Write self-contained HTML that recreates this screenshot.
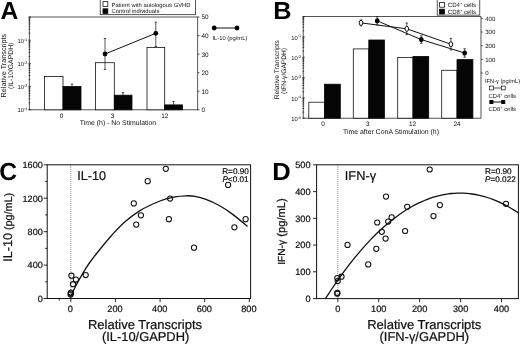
<!DOCTYPE html>
<html><head><meta charset="utf-8"><title>Figure</title>
<style>
html,body{margin:0;padding:0;background:#fff;}
body{width:520px;height:347px;overflow:hidden;}
svg{display:block;filter:blur(0.4px);font-family:"Liberation Sans",sans-serif;fill:#111;text-rendering:geometricPrecision;}
.ln{stroke:#111;stroke-width:1;fill:none;}
.th{stroke:#111;stroke-width:0.7;fill:none;}
.wb{fill:#fff;stroke:#111;stroke-width:0.8;}
.bb{fill:#050505;stroke:#050505;stroke-width:0.8;}
.oc{fill:none;stroke:#111;stroke-width:1.05;}
#panelC text,#panelD text{stroke:#111;stroke-width:0.22;}
#panelC text.pl,#panelD text.pl{stroke:none;}
.fr{stroke:#2a2a2a;stroke-width:0.8;fill:none;}
.tk{stroke:#111;stroke-width:0.9;fill:none;}
.cv{stroke:#111;stroke-width:1.3;fill:none;}
.pl{font-size:24.6px;font-weight:bold;fill:#000;}
</style></head><body>
<svg width="520" height="347" viewBox="0 0 520 347">
<rect x="0" y="0" width="520" height="347" fill="#fff"/>

<g id="panelA">
<text class="pl" transform="translate(0.4,18.5)">A</text>
<rect class="fr" x="29.3" y="17" width="168.39999999999998" height="92.8"/>
<path class="th" d="M28.5 17.0h2.4"/>
<path class="th" stroke-width="0.4" d="M28.7 33.2h1.6"/>
<path class="th" stroke-width="0.4" d="M28.7 29.1h1.6"/>
<path class="th" stroke-width="0.4" d="M28.7 26.2h1.6"/>
<path class="th" stroke-width="0.4" d="M28.7 24.0h1.6"/>
<path class="th" stroke-width="0.4" d="M28.7 22.1h1.6"/>
<path class="th" stroke-width="0.4" d="M28.7 20.6h1.6"/>
<path class="th" stroke-width="0.4" d="M28.7 19.2h1.6"/>
<path class="th" stroke-width="0.4" d="M28.7 18.1h1.6"/>
<path class="th" d="M28.5 40.2h2.4"/>
<text x="27.3" y="42.8" font-size="5.8" text-anchor="end">10<tspan font-size="3.8" dy="-2.1">-1</tspan></text>
<path class="th" stroke-width="0.4" d="M28.7 56.4h1.6"/>
<path class="th" stroke-width="0.4" d="M28.7 52.3h1.6"/>
<path class="th" stroke-width="0.4" d="M28.7 49.4h1.6"/>
<path class="th" stroke-width="0.4" d="M28.7 47.2h1.6"/>
<path class="th" stroke-width="0.4" d="M28.7 45.3h1.6"/>
<path class="th" stroke-width="0.4" d="M28.7 43.8h1.6"/>
<path class="th" stroke-width="0.4" d="M28.7 42.4h1.6"/>
<path class="th" stroke-width="0.4" d="M28.7 41.3h1.6"/>
<path class="th" d="M28.5 63.4h2.4"/>
<text x="27.3" y="66.0" font-size="5.8" text-anchor="end">10<tspan font-size="3.8" dy="-2.1">-2</tspan></text>
<path class="th" stroke-width="0.4" d="M28.7 79.6h1.6"/>
<path class="th" stroke-width="0.4" d="M28.7 75.5h1.6"/>
<path class="th" stroke-width="0.4" d="M28.7 72.6h1.6"/>
<path class="th" stroke-width="0.4" d="M28.7 70.4h1.6"/>
<path class="th" stroke-width="0.4" d="M28.7 68.5h1.6"/>
<path class="th" stroke-width="0.4" d="M28.7 67.0h1.6"/>
<path class="th" stroke-width="0.4" d="M28.7 65.6h1.6"/>
<path class="th" stroke-width="0.4" d="M28.7 64.5h1.6"/>
<path class="th" d="M28.5 86.6h2.4"/>
<text x="27.3" y="89.2" font-size="5.8" text-anchor="end">10<tspan font-size="3.8" dy="-2.1">-3</tspan></text>
<path class="th" stroke-width="0.4" d="M28.7 102.8h1.6"/>
<path class="th" stroke-width="0.4" d="M28.7 98.7h1.6"/>
<path class="th" stroke-width="0.4" d="M28.7 95.8h1.6"/>
<path class="th" stroke-width="0.4" d="M28.7 93.6h1.6"/>
<path class="th" stroke-width="0.4" d="M28.7 91.7h1.6"/>
<path class="th" stroke-width="0.4" d="M28.7 90.2h1.6"/>
<path class="th" stroke-width="0.4" d="M28.7 88.8h1.6"/>
<path class="th" stroke-width="0.4" d="M28.7 87.7h1.6"/>
<path class="th" d="M28.5 109.8h2.4"/>
<text x="27.3" y="112.4" font-size="5.8" text-anchor="end">10<tspan font-size="3.8" dy="-2.1">-4</tspan></text>
<path class="th" d="M197.7 17.0h1.8"/>
<text x="201.5" y="19.4" font-size="6.4">50</text>
<path class="th" d="M197.7 35.6h1.8"/>
<text x="201.5" y="38.0" font-size="6.4">40</text>
<path class="th" d="M197.7 54.1h1.8"/>
<text x="201.5" y="56.5" font-size="6.4">30</text>
<path class="th" d="M197.7 72.7h1.8"/>
<text x="201.5" y="75.1" font-size="6.4">20</text>
<path class="th" d="M197.7 91.2h1.8"/>
<text x="201.5" y="93.6" font-size="6.4">10</text>
<path class="th" d="M197.7 109.8h1.8"/>
<text x="201.5" y="112.2" font-size="6.4">0</text>
<text transform="translate(6.2,65.6) rotate(-90)" font-size="7.25" text-anchor="middle">Relative Transcripts</text>
<text transform="translate(13.4,65.8) rotate(-90)" font-size="6.85" text-anchor="middle">(IL-10/GAPDH)</text>
<rect class="wb" x="44.5" y="76.4" width="18.5" height="33.4"/>
<rect class="bb" x="63" y="86.5" width="18.0" height="23.3"/>
<rect class="wb" x="95.5" y="62.7" width="18.8" height="47.1"/>
<rect class="bb" x="114.3" y="95.2" width="17.7" height="14.6"/>
<rect class="wb" x="147" y="47.5" width="17.7" height="62.3"/>
<rect class="bb" x="164.7" y="104.9" width="17.9" height="4.9"/>
<path class="th" d="M72 84V86.5M70.8 84h2.4"/>
<path class="th" d="M123 92.6V95.2M121.8 92.6h2.4"/>
<path class="th" d="M173.5 101.4V104.9M172.3 101.4h2.4"/>
<path class="th" d="M105 38.5V69.5M103.8 38.5h2.4M103.8 69.5h2.4"/>
<path class="th" d="M155.8 22.2V46.5M154.60000000000002 22.2h2.4M154.60000000000002 46.5h2.4"/>
<path class="ln" d="M105 54L155.8 33.3"/>
<circle cx="105" cy="54" r="2.4" fill="#000"/><circle cx="155.8" cy="33.3" r="2.4" fill="#000"/>
<text x="61.6" y="117.6" font-size="6.4" text-anchor="middle">0</text>
<text x="112.6" y="117.6" font-size="6.4" text-anchor="middle">3</text>
<text x="164.8" y="117.6" font-size="6.4" text-anchor="middle">12</text>
<text x="118" y="124.5" font-size="6.9" text-anchor="middle">Time (h) - No Stimulation</text>
<rect class="th" x="100.2" y="-1" width="95.2" height="15.7" fill="#fff"/>
<rect class="wb" x="103" y="1.6" width="4.8" height="4.8"/><rect class="bb" x="103" y="8.8" width="4.8" height="4.6"/>
<text x="111.6" y="6.6" font-size="5.85">Patient with autologous GVHD</text>
<text x="111.6" y="13.2" font-size="5.85">Control individuals</text>
<path class="ln" d="M214 28H237"/><circle cx="214.2" cy="28" r="2.4" fill="#000"/><circle cx="237" cy="28" r="2.4" fill="#000"/>
<text x="212.5" y="40" font-size="5.8">IL-10 (pg/mL)</text>
</g>
<g id="panelB">
<text class="pl" transform="translate(273.2,18.6) scale(1.03,1)">B</text>
<rect class="fr" x="303.2" y="16.6" width="177.8" height="101.6"/>
<path class="th" d="M302.4 16.6h2.4"/>
<path class="th" stroke-width="0.4" d="M302.59999999999997 30.8h1.6"/>
<path class="th" stroke-width="0.4" d="M302.59999999999997 27.2h1.6"/>
<path class="th" stroke-width="0.4" d="M302.59999999999997 24.7h1.6"/>
<path class="th" stroke-width="0.4" d="M302.59999999999997 22.7h1.6"/>
<path class="th" stroke-width="0.4" d="M302.59999999999997 21.1h1.6"/>
<path class="th" stroke-width="0.4" d="M302.59999999999997 19.7h1.6"/>
<path class="th" stroke-width="0.4" d="M302.59999999999997 18.6h1.6"/>
<path class="th" stroke-width="0.4" d="M302.59999999999997 17.5h1.6"/>
<path class="th" d="M302.4 36.9h2.4"/>
<text x="301.2" y="39.5" font-size="5.8" text-anchor="end">10<tspan font-size="3.8" dy="-2.1">-1</tspan></text>
<path class="th" stroke-width="0.4" d="M302.59999999999997 51.1h1.6"/>
<path class="th" stroke-width="0.4" d="M302.59999999999997 47.5h1.6"/>
<path class="th" stroke-width="0.4" d="M302.59999999999997 45.0h1.6"/>
<path class="th" stroke-width="0.4" d="M302.59999999999997 43.0h1.6"/>
<path class="th" stroke-width="0.4" d="M302.59999999999997 41.4h1.6"/>
<path class="th" stroke-width="0.4" d="M302.59999999999997 40.1h1.6"/>
<path class="th" stroke-width="0.4" d="M302.59999999999997 38.9h1.6"/>
<path class="th" stroke-width="0.4" d="M302.59999999999997 37.8h1.6"/>
<path class="th" d="M302.4 57.2h2.4"/>
<text x="301.2" y="59.8" font-size="5.8" text-anchor="end">10<tspan font-size="3.8" dy="-2.1">-2</tspan></text>
<path class="th" stroke-width="0.4" d="M302.59999999999997 71.4h1.6"/>
<path class="th" stroke-width="0.4" d="M302.59999999999997 67.9h1.6"/>
<path class="th" stroke-width="0.4" d="M302.59999999999997 65.3h1.6"/>
<path class="th" stroke-width="0.4" d="M302.59999999999997 63.4h1.6"/>
<path class="th" stroke-width="0.4" d="M302.59999999999997 61.7h1.6"/>
<path class="th" stroke-width="0.4" d="M302.59999999999997 60.4h1.6"/>
<path class="th" stroke-width="0.4" d="M302.59999999999997 59.2h1.6"/>
<path class="th" stroke-width="0.4" d="M302.59999999999997 58.2h1.6"/>
<path class="th" d="M302.4 77.6h2.4"/>
<text x="301.2" y="80.2" font-size="5.8" text-anchor="end">10<tspan font-size="3.8" dy="-2.1">-3</tspan></text>
<path class="th" stroke-width="0.4" d="M302.59999999999997 91.8h1.6"/>
<path class="th" stroke-width="0.4" d="M302.59999999999997 88.2h1.6"/>
<path class="th" stroke-width="0.4" d="M302.59999999999997 85.6h1.6"/>
<path class="th" stroke-width="0.4" d="M302.59999999999997 83.7h1.6"/>
<path class="th" stroke-width="0.4" d="M302.59999999999997 82.1h1.6"/>
<path class="th" stroke-width="0.4" d="M302.59999999999997 80.7h1.6"/>
<path class="th" stroke-width="0.4" d="M302.59999999999997 79.5h1.6"/>
<path class="th" stroke-width="0.4" d="M302.59999999999997 78.5h1.6"/>
<path class="th" d="M302.4 97.9h2.4"/>
<text x="301.2" y="100.5" font-size="5.8" text-anchor="end">10<tspan font-size="3.8" dy="-2.1">-4</tspan></text>
<path class="th" stroke-width="0.4" d="M302.59999999999997 112.1h1.6"/>
<path class="th" stroke-width="0.4" d="M302.59999999999997 108.5h1.6"/>
<path class="th" stroke-width="0.4" d="M302.59999999999997 106.0h1.6"/>
<path class="th" stroke-width="0.4" d="M302.59999999999997 104.0h1.6"/>
<path class="th" stroke-width="0.4" d="M302.59999999999997 102.4h1.6"/>
<path class="th" stroke-width="0.4" d="M302.59999999999997 101.0h1.6"/>
<path class="th" stroke-width="0.4" d="M302.59999999999997 99.8h1.6"/>
<path class="th" stroke-width="0.4" d="M302.59999999999997 98.8h1.6"/>
<path class="th" d="M302.4 118.2h2.4"/>
<text x="301.2" y="120.8" font-size="5.8" text-anchor="end">10<tspan font-size="3.8" dy="-2.1">-5</tspan></text>
<path class="th" d="M481 18.4h1.8"/>
<text x="485.2" y="20.6" font-size="6.1">400</text>
<path class="th" d="M481 32.0h1.8"/>
<text x="485.2" y="34.2" font-size="6.1">300</text>
<path class="th" d="M481 45.7h1.8"/>
<text x="485.2" y="47.9" font-size="6.1">200</text>
<path class="th" d="M481 59.4h1.8"/>
<text x="485.2" y="61.6" font-size="6.1">100</text>
<path class="th" d="M481 73.0h1.8"/>
<text x="485.2" y="75.2" font-size="6.1">0</text>
<text transform="translate(279.2,69.7) rotate(-90)" font-size="6.75" text-anchor="middle">Relative Transcripts</text>
<text transform="translate(285.8,71) rotate(-90)" font-size="6.6" text-anchor="middle">(IFN-γ/GAPDH)</text>
<rect class="wb" x="308.8" y="102.2" width="15.6" height="16.0"/>
<rect class="bb" x="324.4" y="84.2" width="15.9" height="34.0"/>
<rect class="wb" x="353.3" y="48.9" width="15.5" height="69.3"/>
<rect class="bb" x="368.8" y="40" width="15.6" height="78.2"/>
<rect class="wb" x="397.7" y="57.5" width="15.3" height="60.7"/>
<rect class="bb" x="413" y="56.4" width="15.7" height="61.8"/>
<rect class="wb" x="441.7" y="70.3" width="15.3" height="47.9"/>
<rect class="bb" x="457" y="59.6" width="15.9" height="58.6"/>
<path class="ln" d="M361 22.9L406.8 28.8L450.9 44.2"/>
<path class="ln" d="M377.2 20.8L421.3 39.6L464.7 53"/>
<path class="th" d="M361 19.9V25.9M359.7 19.9h2.6M359.7 25.9h2.6"/>
<ellipse cx="361" cy="22.9" rx="1.8" ry="2.5" fill="#fff" stroke="#111" stroke-width="1"/>
<path class="th" d="M406.8 23.0V34.6M405.5 23.0h2.6M405.5 34.6h2.6"/>
<ellipse cx="406.8" cy="28.8" rx="1.8" ry="2.5" fill="#fff" stroke="#111" stroke-width="1"/>
<path class="th" d="M450.9 38.400000000000006V50.0M449.59999999999997 38.400000000000006h2.6M449.59999999999997 50.0h2.6"/>
<ellipse cx="450.9" cy="44.2" rx="1.8" ry="2.5" fill="#fff" stroke="#111" stroke-width="1"/>
<path class="th" d="M377.2 16.700000000000003V24.9M375.9 16.700000000000003h2.6M375.9 24.9h2.6"/>
<ellipse cx="377.2" cy="20.8" rx="2.3" ry="2.6" fill="#000"/>
<path class="th" d="M421.3 35.800000000000004V43.4M420.0 35.800000000000004h2.6M420.0 43.4h2.6"/>
<ellipse cx="421.3" cy="39.6" rx="2.3" ry="2.6" fill="#000"/>
<path class="th" d="M464.7 48.8V57.2M463.4 48.8h2.6M463.4 57.2h2.6"/>
<ellipse cx="464.7" cy="53" rx="2.3" ry="2.6" fill="#000"/>
<text x="323" y="126.4" font-size="6.4" text-anchor="middle">0</text>
<text x="367.8" y="126.4" font-size="6.4" text-anchor="middle">3</text>
<text x="412.6" y="126.4" font-size="6.4" text-anchor="middle">12</text>
<text x="457" y="126.4" font-size="6.4" text-anchor="middle">24</text>
<text x="391" y="134" font-size="6.9" text-anchor="middle">Time after ConA Stimulation (h)</text>
<rect class="th" x="437.2" y="-1" width="42.6" height="16.1" fill="#fff"/>
<rect class="wb" x="439.6" y="2.4" width="4.8" height="4.8"/><rect class="bb" x="439.6" y="9.2" width="4.8" height="4.8"/>
<text x="447.8" y="7.3" font-size="6.05">CD4<tspan font-size="4" dy="-2">+</tspan><tspan dy="2"> cells</tspan></text>
<text x="447.8" y="14" font-size="6.05">CD8<tspan font-size="4" dy="-2">+</tspan><tspan dy="2"> cells</tspan></text>
<text x="485" y="83.3" font-size="5.7">IFN-γ (pg/mL)</text>
<path class="th" d="M492 88H503"/><rect x="489.6" y="86.1" width="3.8" height="3.8" fill="#fff" stroke="#111" stroke-width="0.7"/><rect x="501.4" y="86.1" width="3.8" height="3.8" fill="#fff" stroke="#111" stroke-width="0.7"/>
<text x="488.4" y="97.5" font-size="5.9">CD4<tspan font-size="4" dy="-2">+</tspan><tspan dy="2"> cells</tspan></text>
<path class="ln" stroke-width="0.9" d="M492 102H503"/><rect x="489.4" y="100" width="4" height="4" fill="#000"/><rect x="501.2" y="100" width="4" height="4" fill="#000"/>
<text x="488.4" y="111.1" font-size="5.9">CD8<tspan font-size="4" dy="-2">+</tspan><tspan dy="2"> cells</tspan></text>
</g>
<g id="panelC">
<text class="pl" transform="translate(-0.8,180)">C</text>
<rect class="ln" x="47.2" y="164.8" width="203.4" height="133.7"/>
<path class="tk" d="M47.2 164.8h-3.6"/>
<text x="42.800000000000004" y="168.1" font-size="9.1" text-anchor="end">1600</text>
<path class="tk" d="M47.2 181.5h-2"/>
<path class="tk" d="M47.2 198.2h-3.6"/>
<text x="42.800000000000004" y="201.5" font-size="9.1" text-anchor="end">1200</text>
<path class="tk" d="M47.2 214.9h-2"/>
<path class="tk" d="M47.2 231.7h-3.6"/>
<text x="42.800000000000004" y="235.0" font-size="9.1" text-anchor="end">800</text>
<path class="tk" d="M47.2 248.4h-2"/>
<path class="tk" d="M47.2 265.1h-3.6"/>
<text x="42.800000000000004" y="268.4" font-size="9.1" text-anchor="end">400</text>
<path class="tk" d="M47.2 281.8h-2"/>
<path class="tk" d="M47.2 298.5h-3.6"/>
<text x="42.800000000000004" y="301.8" font-size="9.1" text-anchor="end">0</text>
<path class="tk" d="M70.8 298.5v3.6"/>
<text x="70.4" y="312.2" font-size="9.2" text-anchor="middle">0</text>
<path class="tk" d="M115.4 298.5v3.6"/>
<text x="115.0" y="312.2" font-size="9.2" text-anchor="middle">200</text>
<path class="tk" d="M160.1 298.5v3.6"/>
<text x="159.7" y="312.2" font-size="9.2" text-anchor="middle">400</text>
<path class="tk" d="M204.7 298.5v3.6"/>
<text x="204.3" y="312.2" font-size="9.2" text-anchor="middle">600</text>
<path class="tk" d="M249.3 298.5v3.6"/>
<text x="248.9" y="312.2" font-size="9.2" text-anchor="middle">800</text>
<path class="tk" d="M59.3 298.5v2"/>
<path d="M70.8 164.8V298.5" stroke="#555" stroke-width="0.7" stroke-dasharray="1 1" fill="none"/>
<text x="77.2" y="180" font-size="12.6">IL-10</text>
<text transform="translate(12,261.7) rotate(-90)" font-size="12.6">IL-10<tspan font-size="10.8"> (pg/mL)</tspan></text>
<text x="145" y="328.8" font-size="13" text-anchor="middle">Relative Transcripts</text>
<text x="145.6" y="341.2" font-size="12.9" text-anchor="middle">(IL-10/GAPDH)</text>
<text x="222.2" y="173.8" font-size="8.2">R=0.90</text>
<text x="222.4" y="181.9" font-size="8.2"><tspan font-style="italic">P</tspan>&lt;0.01</text>
<path class="cv" d="M70.5 296.8C71.4 294.9 74.0 289.4 76.0 285.5C78.0 281.6 80.5 277.2 82.8 273.3C85.1 269.4 87.3 265.9 90.1 262.0C92.9 258.1 95.8 254.5 99.4 250.0C103.1 245.5 107.7 239.7 112.0 235.0C116.3 230.3 120.3 225.9 125.0 221.8C129.7 217.7 134.2 214.1 140.0 210.6C145.8 207.1 154.2 203.3 160.0 201.0C165.8 198.7 170.7 197.8 175.0 196.9C179.3 196.0 182.7 195.9 186.0 195.8C189.3 195.7 191.8 195.8 195.0 196.4C198.2 197.0 201.3 197.7 205.3 199.2C209.3 200.7 214.3 202.8 218.8 205.3C223.3 207.8 227.6 210.6 232.4 214.1C237.2 217.6 245.0 224.4 247.5 226.5"/>
<circle class="oc" cx="165.8" cy="168.8" r="2.6"/>
<circle class="oc" cx="147.7" cy="181.2" r="2.6"/>
<circle class="oc" cx="228.1" cy="184.9" r="2.6"/>
<circle class="oc" cx="133.8" cy="203.4" r="2.6"/>
<circle class="oc" cx="170.1" cy="198.6" r="2.6"/>
<circle class="oc" cx="140.9" cy="215.3" r="2.6"/>
<circle class="oc" cx="136.2" cy="224.6" r="2.6"/>
<circle class="oc" cx="168.9" cy="219.2" r="2.6"/>
<circle class="oc" cx="245.6" cy="219.2" r="2.6"/>
<circle class="oc" cx="234.4" cy="227.3" r="2.6"/>
<circle class="oc" cx="194" cy="247.7" r="2.6"/>
<circle class="oc" cx="85.7" cy="275" r="2.6"/>
<circle class="oc" cx="71.4" cy="275.7" r="2.6"/>
<circle class="oc" cx="75.9" cy="279.5" r="2.6"/>
<circle class="oc" cx="73" cy="284.2" r="2.6"/>
<circle class="oc" cx="70.9" cy="292.6" r="2.6"/>
<circle class="oc" cx="70.6" cy="294.6" r="2.6"/>
<circle class="oc" cx="70.8" cy="293.6" r="2.6"/>
</g>
<g id="panelD">
<text class="pl" transform="translate(272.3,179.6) scale(1.04,1)">D</text>
<rect class="ln" x="316.6" y="164.8" width="201.8" height="133.8"/>
<path class="tk" d="M316.6 164.8h-3.6"/>
<text x="310.6" y="168.1" font-size="9.2" text-anchor="end">500</text>
<path class="tk" d="M316.6 191.6h-3.6"/>
<text x="310.6" y="194.9" font-size="9.2" text-anchor="end">400</text>
<path class="tk" d="M316.6 218.3h-3.6"/>
<text x="310.6" y="221.6" font-size="9.2" text-anchor="end">300</text>
<path class="tk" d="M316.6 245.1h-3.6"/>
<text x="310.6" y="248.4" font-size="9.2" text-anchor="end">200</text>
<path class="tk" d="M316.6 271.8h-3.6"/>
<text x="310.6" y="275.1" font-size="9.2" text-anchor="end">100</text>
<path class="tk" d="M316.6 298.6h-3.6"/>
<text x="310.6" y="301.9" font-size="9.2" text-anchor="end">0</text>
<path class="tk" d="M337.8 298.6v3.6"/>
<text x="337.8" y="312.4" font-size="9.2" text-anchor="middle">0</text>
<path class="tk" d="M378.7 298.6v3.6"/>
<text x="378.7" y="312.4" font-size="9.2" text-anchor="middle">100</text>
<path class="tk" d="M419.6 298.6v3.6"/>
<text x="419.6" y="312.4" font-size="9.2" text-anchor="middle">200</text>
<path class="tk" d="M460.6 298.6v3.6"/>
<text x="460.6" y="312.4" font-size="9.2" text-anchor="middle">300</text>
<path class="tk" d="M501.5 298.6v3.6"/>
<text x="501.5" y="312.4" font-size="9.2" text-anchor="middle">400</text>
<path d="M337.8 164.8V298.6" stroke="#555" stroke-width="0.7" stroke-dasharray="1 1" fill="none"/>
<text x="344.8" y="180" font-size="12.8">IFN-γ</text>
<text transform="translate(284.6,264.8) rotate(-90)" font-size="10.2">IFN-γ<tspan font-size="11.2"> (pg/mL)</tspan></text>
<text x="424.3" y="328.8" font-size="13" text-anchor="middle">Relative Transcripts</text>
<text x="424.3" y="341.2" font-size="12.9" text-anchor="middle">(IFN-γ/GAPDH)</text>
<text x="485" y="173.8" font-size="8.2">R=0.90</text>
<text x="485" y="182.1" font-size="8.2"><tspan font-style="italic">P</tspan>=0.022</text>
<path class="cv" d="M325.4 298.7L328.4 294.1L331.4 289.5L334.4 285.1L337.4 280.7L340.4 276.5L343.4 272.4L346.4 268.3L349.4 264.4L352.4 260.6L355.4 256.9L358.4 253.3L361.4 249.8L364.4 246.4L367.4 243.1L370.4 239.9L373.4 236.8L376.4 233.8L379.4 231.0L382.4 228.2L385.4 225.5L388.4 223.0L391.4 220.5L394.4 218.2L397.4 215.9L400.4 213.8L403.4 211.8L406.4 209.8L409.4 208.0L412.4 206.3L415.4 204.7L418.4 203.2L421.4 201.8L424.4 200.5L427.4 199.3L430.4 198.2L433.4 197.2L436.4 196.3L439.4 195.6L442.4 194.9L445.4 194.3L448.4 193.9L451.4 193.5L454.4 193.3L457.4 193.1L460.4 193.1L463.4 193.2L466.4 193.3L469.4 193.6L472.4 194.0L475.4 194.5L478.4 195.1L481.4 195.8L484.4 196.6L487.4 197.5L490.4 198.5L493.4 199.6L496.4 200.8L499.4 202.2L502.4 203.6L505.4 205.1L508.4 206.8L511.4 208.5L514.4 210.4L517.4 212.3L518.4 213.0"/>
<circle class="oc" cx="429.7" cy="169.5" r="2.6"/>
<circle class="oc" cx="386" cy="196.6" r="2.6"/>
<circle class="oc" cx="407.2" cy="206.8" r="2.6"/>
<circle class="oc" cx="439.9" cy="205.1" r="2.6"/>
<circle class="oc" cx="433.5" cy="216.1" r="2.6"/>
<circle class="oc" cx="506" cy="203.8" r="2.6"/>
<circle class="oc" cx="391.6" cy="217.4" r="2.6"/>
<circle class="oc" cx="388.2" cy="221.6" r="2.6"/>
<circle class="oc" cx="377.2" cy="222.5" r="2.6"/>
<circle class="oc" cx="381.8" cy="231.8" r="2.6"/>
<circle class="oc" cx="405.1" cy="231.0" r="2.6"/>
<circle class="oc" cx="385.6" cy="238.6" r="2.6"/>
<circle class="oc" cx="347.5" cy="244.9" r="2.6"/>
<circle class="oc" cx="376.3" cy="248.8" r="2.6"/>
<circle class="oc" cx="368.2" cy="264.4" r="2.6"/>
<circle class="oc" cx="341.5" cy="276.7" r="2.6"/>
<circle class="oc" cx="337.3" cy="278.0" r="2.6"/>
<circle class="oc" cx="337.7" cy="281.0" r="2.6"/>
<circle class="oc" cx="337.3" cy="292.8" r="2.6"/>
<circle class="oc" cx="337.3" cy="293.7" r="2.6"/>
</g>
</svg></body></html>
